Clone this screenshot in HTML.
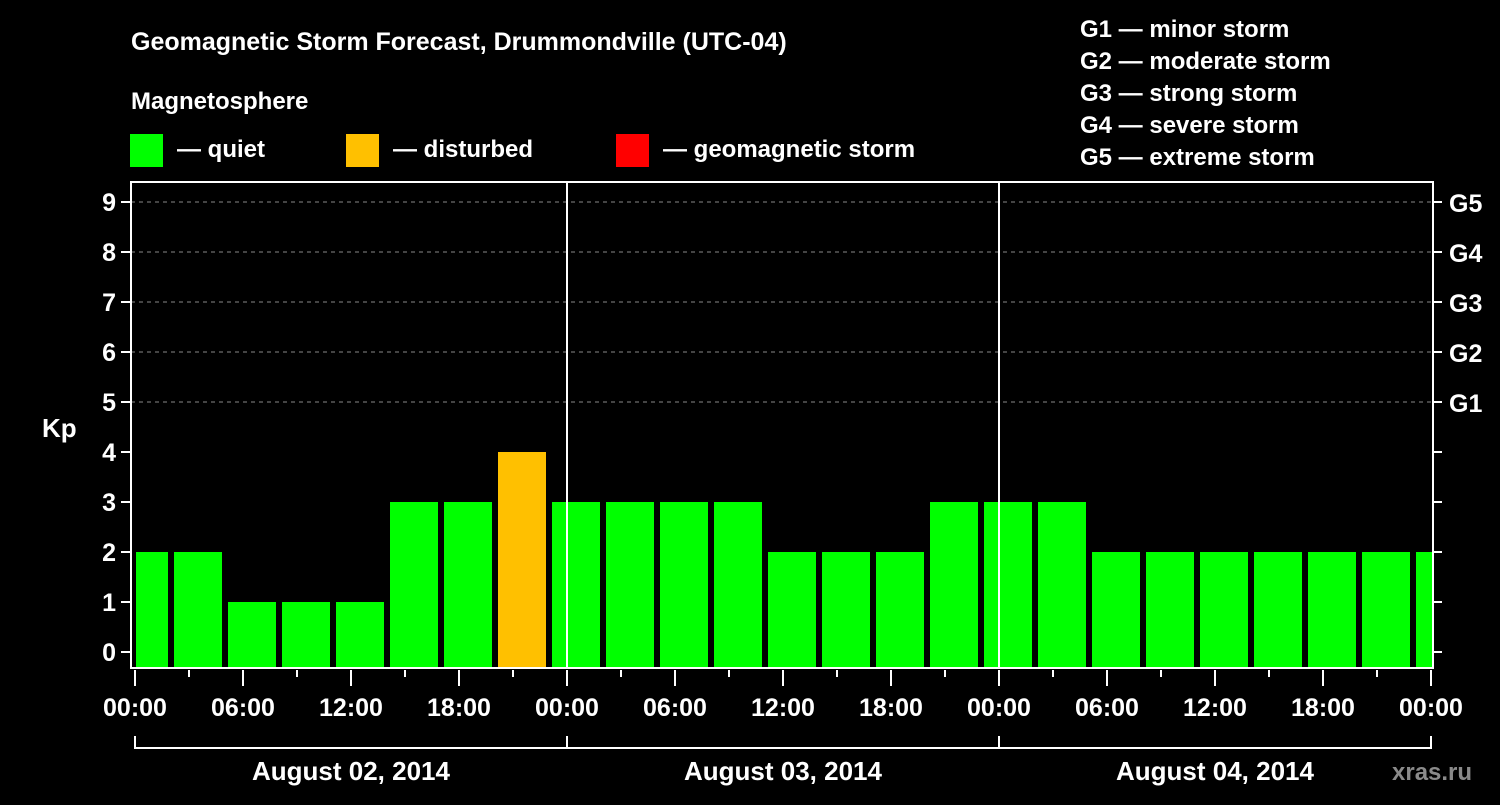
<!DOCTYPE html>
<html><head><meta charset="utf-8"><style>
body{margin:0;background:#000;width:1500px;height:800px;overflow:hidden}
svg text{font-family:"Liberation Sans",Arial,sans-serif;font-weight:bold;fill:#fff}
</style></head><body>
<svg id="chart" width="1500" height="800" xmlns="http://www.w3.org/2000/svg">
<rect width="1500" height="800" fill="#000"/>
<text x="131" y="50" font-size="25">Geomagnetic Storm Forecast, Drummondville (UTC-04)</text>
<text x="131" y="109" font-size="24">Magnetosphere</text>
<g><rect x="130" y="134" width="33" height="33" fill="#00ff00"/><text x="177" y="157" font-size="24">— quiet</text></g>
<g><rect x="346" y="134" width="33" height="33" fill="#ffc000"/><text x="393" y="157" font-size="24">— disturbed</text></g>
<g><rect x="616" y="134" width="33" height="33" fill="#ff0000"/><text x="663" y="157" font-size="24">— geomagnetic storm</text></g>
<g font-size="24">
<text x="1080" y="37">G1 — minor storm</text>
<text x="1080" y="69">G2 — moderate storm</text>
<text x="1080" y="101">G3 — strong storm</text>
<text x="1080" y="133">G4 — severe storm</text>
<text x="1080" y="165">G5 — extreme storm</text>
</g>
<text x="42" y="437" font-size="26">Kp</text>
<text x="1392" y="780" font-size="24" fill="#888" style="fill:#8a8a8a">xras.ru</text>
<g id="plot"></g>
</svg>
<script>
const kpValues=[2,2,1,1,1,3,3,4,3,3,3,3,2,2,2,3,3,3,2,2,2,2,2,2,2];
const yTicks=[0,1,2,3,4,5,6,7,8,9];
const gLabels=["G1","G2","G3","G4","G5"];
const hourLabels=["00:00","06:00","12:00","18:00"];
const dayLabels=["August 02, 2014","August 03, 2014","August 04, 2014"];
const firstBarHour=-1;

const L=131,R=1433,T=182,B=668;
const x0=135,pxPerHour=18;
const X=h=>x0+h*pxPerHour;
const Y=v=>652-v*50;
const ns="http://www.w3.org/2000/svg";
const g=document.getElementById('plot');
function mk(tag,attrs){const e=document.createElementNS(ns,tag);for(const k in attrs)e.setAttribute(k,attrs[k]);g.appendChild(e);return e;}
// grid
yTicks.forEach(v=>{
 if(v>=5){const l=mk('line',{x1:L,x2:R,y1:Y(v),y2:Y(v),stroke:'#888','stroke-dasharray':'4,4','stroke-width':1});
 
 }
 const t=mk('line',{x1:L-10,x2:L,y1:Y(v),y2:Y(v),stroke:'#fff','stroke-width':2});
 
 
 const t2=mk('line',{x1:R,x2:R+9,y1:Y(v),y2:Y(v),stroke:'#fff','stroke-width':2});
 
 
 const tx=mk('text',{x:L-15,y:Y(v)+9,'font-size':25,'text-anchor':'end'});tx.textContent=v;
 
 
});
gLabels.forEach((s,i)=>{const tx=mk('text',{x:R+16,y:Y(5+i)+10,'font-size':25});tx.textContent=s;
 
 });
// bars
const clip=mk('clipPath',{id:'pc'});const cr=document.createElementNS(ns,'rect');
cr.setAttribute('x',X(0)+1);cr.setAttribute('y',T);cr.setAttribute('width',X(72)-X(0));cr.setAttribute('height',B-T);clip.appendChild(cr);
kpValues.forEach((v,i)=>{
 const h=firstBarHour+3*i;
 const col=v>=5?'#ff0000':(v>=4?'#ffc000':'#00ff00');
 const r=mk('rect',{x:X(h)+3,y:Y(v),width:3*pxPerHour-6,height:B-Y(v),fill:col,'clip-path':'url(#pc)'});
 
 
});
// frame
const fr=mk('rect',{x:L,y:T,width:R-L,height:B-T,fill:'none',stroke:'#fff','stroke-width':2});


[1,2].forEach(d=>{const l=mk('line',{x1:X(24*d),x2:X(24*d),y1:T,y2:B,stroke:'#fff','stroke-width':2});
 
 });
// x ticks
for(let h=0;h<=72;h+=3){
 const major=h%6===0;
 const t=mk('line',{x1:X(h),x2:X(h),y1:B+2,y2:major?B+18:B+9,stroke:'#fff','stroke-width':2});
 
 
}
for(let h=0;h<=72;h+=6){
 const tx=mk('text',{x:X(h),y:B+48,'font-size':25,'text-anchor':'middle'});
 tx.textContent=hourLabels[(h/6)%4];
 
 
}
// day brackets
const br=mk('line',{x1:X(0),x2:X(72),y1:748,y2:748,stroke:'#fff','stroke-width':2});


for(let d=0;d<=3;d++){const l=mk('line',{x1:X(24*d),x2:X(24*d),y1:736,y2:749,stroke:'#fff','stroke-width':2});
 
 }
dayLabels.forEach((s,d)=>{const tx=mk('text',{x:X(24*d+12),y:780,'font-size':26,'text-anchor':'middle'});tx.textContent=s;
 
 });
</script>
</body></html>
